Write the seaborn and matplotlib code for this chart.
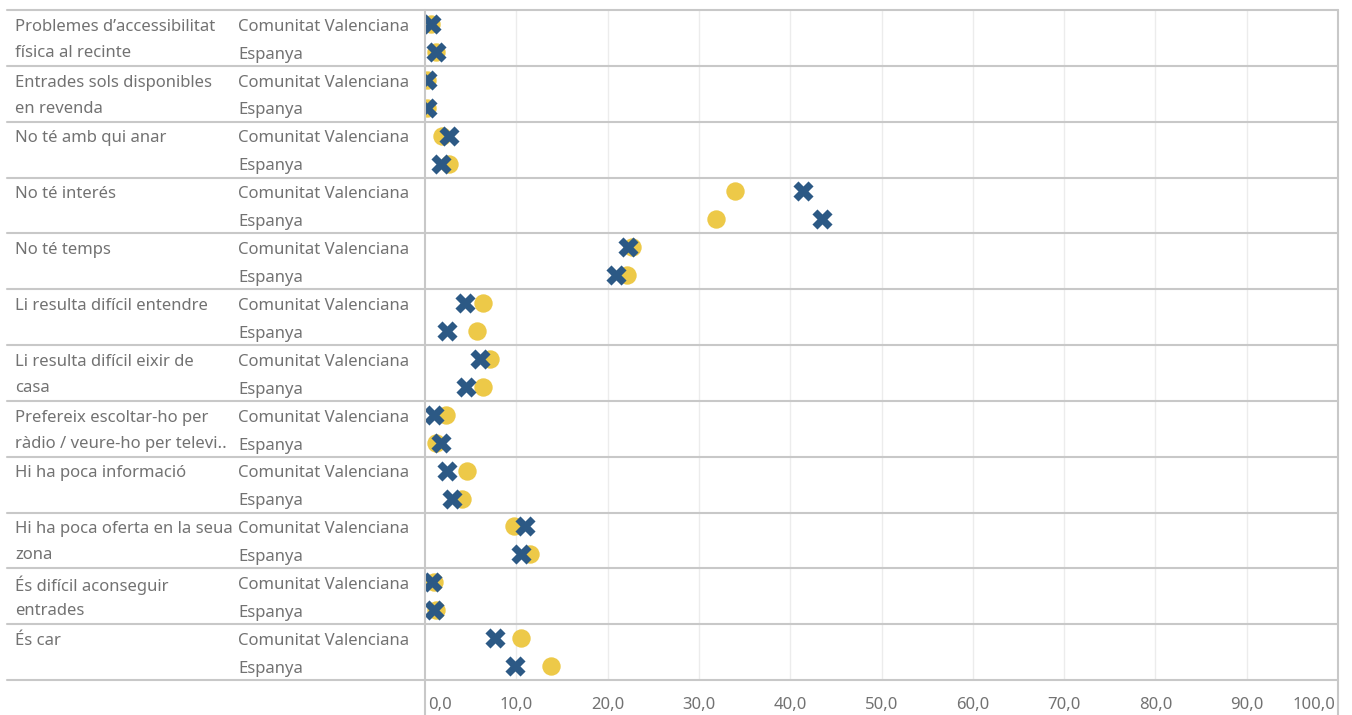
import matplotlib
matplotlib.use("Agg")
import matplotlib.pyplot as plt
import matplotlib.transforms as mtransforms
import seaborn as sns
import pandas as pd

categories = [
    "Problemes d’accessibilitat\nfísica al recinte",
    "Entrades sols disponibles\nen revenda",
    "No té amb qui anar",
    "No té interés",
    "No té temps",
    "Li resulta difícil entendre",
    "Li resulta difícil eixir de\ncasa",
    "Prefereix escoltar-ho per\nràdio / veure-ho per televi..",
    "Hi ha poca informació",
    "Hi ha poca oferta en la seua\nzona",
    "És difícil aconseguir\nentrades",
    "És car",
]
regions = ["Comunitat Valenciana", "Espanya"]

# yellow circles, per category: [CV, Espanya]
circle_vals = [
    [0.7, 1.2], [0.2, 0.2], [1.9, 2.6], [33.9, 31.9], [22.7, 22.1], [6.4, 5.7],
    [7.1, 6.4], [2.3, 1.2], [4.6, 4.1], [9.8, 11.5], [1.0, 1.2], [10.5, 13.8],
]
# blue crosses, per category: [CV, Espanya]
cross_vals = [
    [0.7, 1.2], [0.2, 0.2], [2.6, 1.8], [41.4, 43.5], [22.2, 20.9], [4.4, 2.4],
    [6.05, 4.5], [1.0, 1.8], [2.4, 3.0], [10.9, 10.5], [0.8, 1.0], [7.7, 9.9],
]
x_ticks = [0, 10, 20, 30, 40, 50, 60, 70, 80, 90, 100]
x_tick_labels = ["0,0", "10,0", "20,0", "30,0", "40,0", "50,0",
                 "60,0", "70,0", "80,0", "90,0", "100,0"]

yellow = "#EDC948"
blue = "#2C5985"
text_col = "#727272"
sep_col = "#c8c8c8"
fs = 12

rows = []
for series, vals in (("circle", circle_vals), ("cross", cross_vals)):
    for i, cat in enumerate(categories):
        for j, reg in enumerate(regions):
            rows.append({"row": i * 2 + j, "cat": cat, "region": reg,
                         "value": vals[i][j], "series": series})
df = pd.DataFrame(rows)

sns.set_theme(style="white")
plt.rcParams["font.family"] = ["Noto Sans", "DejaVu Sans"]

W, H = 1352, 715
fig = plt.figure(figsize=(W / 100, H / 100), dpi=100)
ax = fig.add_axes([425 / W, (H - 680) / H, (1338 - 425) / W, 670 / H])

ax.set_xlim(0, 100)
nrows = len(categories) * 2
ax.set_ylim(nrows - 0.5, -0.5)
for t in x_ticks[1:-1]:
    ax.axvline(t, color="#ececec", lw=1, zorder=0)

sns.scatterplot(data=df[df.series == "circle"], x="value", y="row", ax=ax,
                color=yellow, marker="o", s=175, linewidth=0, zorder=3)
sns.scatterplot(data=df[df.series == "cross"], x="value", y="row", ax=ax,
                color=blue, marker="X", s=210, linewidth=0, zorder=4)

ax.set_xticks([])
ax.set_yticks([])
ax.set_xlabel("")
ax.set_ylabel("")
for s in ax.spines.values():
    s.set_visible(False)

# row separators across the label area and the plot
trans = mtransforms.blended_transform_factory(fig.transFigure, ax.transData)
for k in range(len(categories) + 1):
    y = k * 2 - 0.5
    ax.plot([7 / W, 1338 / W], [y, y], transform=trans, color=sep_col,
            lw=1.5, clip_on=False, zorder=5)

# vertical axis lines
vtrans = mtransforms.blended_transform_factory(ax.transData, fig.transFigure)
for xv in (0, 100):
    ax.plot([xv, xv], [0, (H - 10) / H], transform=vtrans, color=sep_col,
            lw=1.5, clip_on=False, zorder=5)

# labels
dy = 0.1
for i, cat in enumerate(categories):
    for li, line in enumerate(cat.split("\n")):
        ax.text(15 / W, i * 2 + li * 0.93 + dy, line, transform=trans,
                ha="left", va="center", fontsize=fs, color=text_col)
    for j, reg in enumerate(regions):
        ax.text(238 / W, i * 2 + j + dy, reg, transform=trans, ha="left",
                va="center", fontsize=fs, color=text_col)

# x axis labels in the strip below
for t, lab in zip(x_ticks, x_tick_labels):
    if t == 0:
        ha, off = "left", 0.3
    elif t == 100:
        ha, off = "right", -0.3
    else:
        ha, off = "center", 0
    ax.text(t + off, 10 / H, lab, transform=vtrans, ha=ha, va="center",
            fontsize=fs, color=text_col)

fig.savefig("out.png", dpi=100)
